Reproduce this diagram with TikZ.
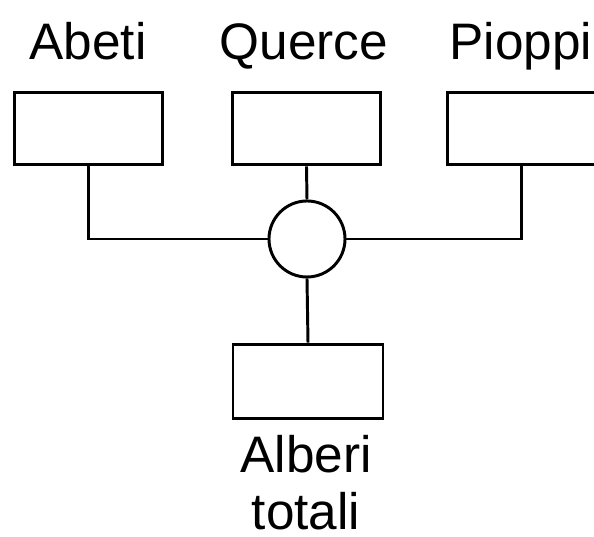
\documentclass[tikz,border=0pt]{standalone}
\usepackage{fontspec}
\setmainfont{Liberation Sans}
\usetikzlibrary{positioning}
\tikzset{
  vbox/.style={rectangle, draw, line width=2.1pt, minimum width=3.72cm,
               minimum height=1.82cm, inner sep=0pt},
  sumnode/.style={circle, draw, line width=2.1pt, minimum size=1.9cm,
                  inner sep=0pt},
  link/.style={line width=2.1pt},
  lbl/.style={font=\fontsize{36.5}{40.5}\selectfont, align=center, inner sep=0pt}
}
\begin{document}
\begin{tikzpicture}[x=0.025cm, y=0.025cm]
  \useasboundingbox (0,0) rectangle (594,537);
  \node[vbox] (ab) at (88.5,408.5) {};
  \node[vbox] (qu) at (306.5,408.5) {};
  \node[vbox] (pi) at (521.5,408.5) {};
  \node[sumnode] (sum) at (307,298) {};
  \node[vbox, minimum width=3.75cm, minimum height=1.87cm] (tot) at (308,155.5) {};
  \node[lbl, anchor=base] (abl) at (88,477) {Abeti};
  \node[lbl, anchor=base] (qul) at (304,477) {Querce};
  \node[lbl, anchor=base] (pil) at (521,477) {Pioppi};
  \node[lbl, anchor=base] (totl) at (306,64) {Alberi};
  \node[lbl, anchor=base] (totl2) at (306,7) {totali};
  \draw[link] (ab.south) |- (sum.west);
  \draw[link] (pi.south) |- (sum.east);
  \draw[link] (qu.south) -- (sum.north);
  \draw[link] (sum.south) -- (tot.north);
\end{tikzpicture}
\end{document}
